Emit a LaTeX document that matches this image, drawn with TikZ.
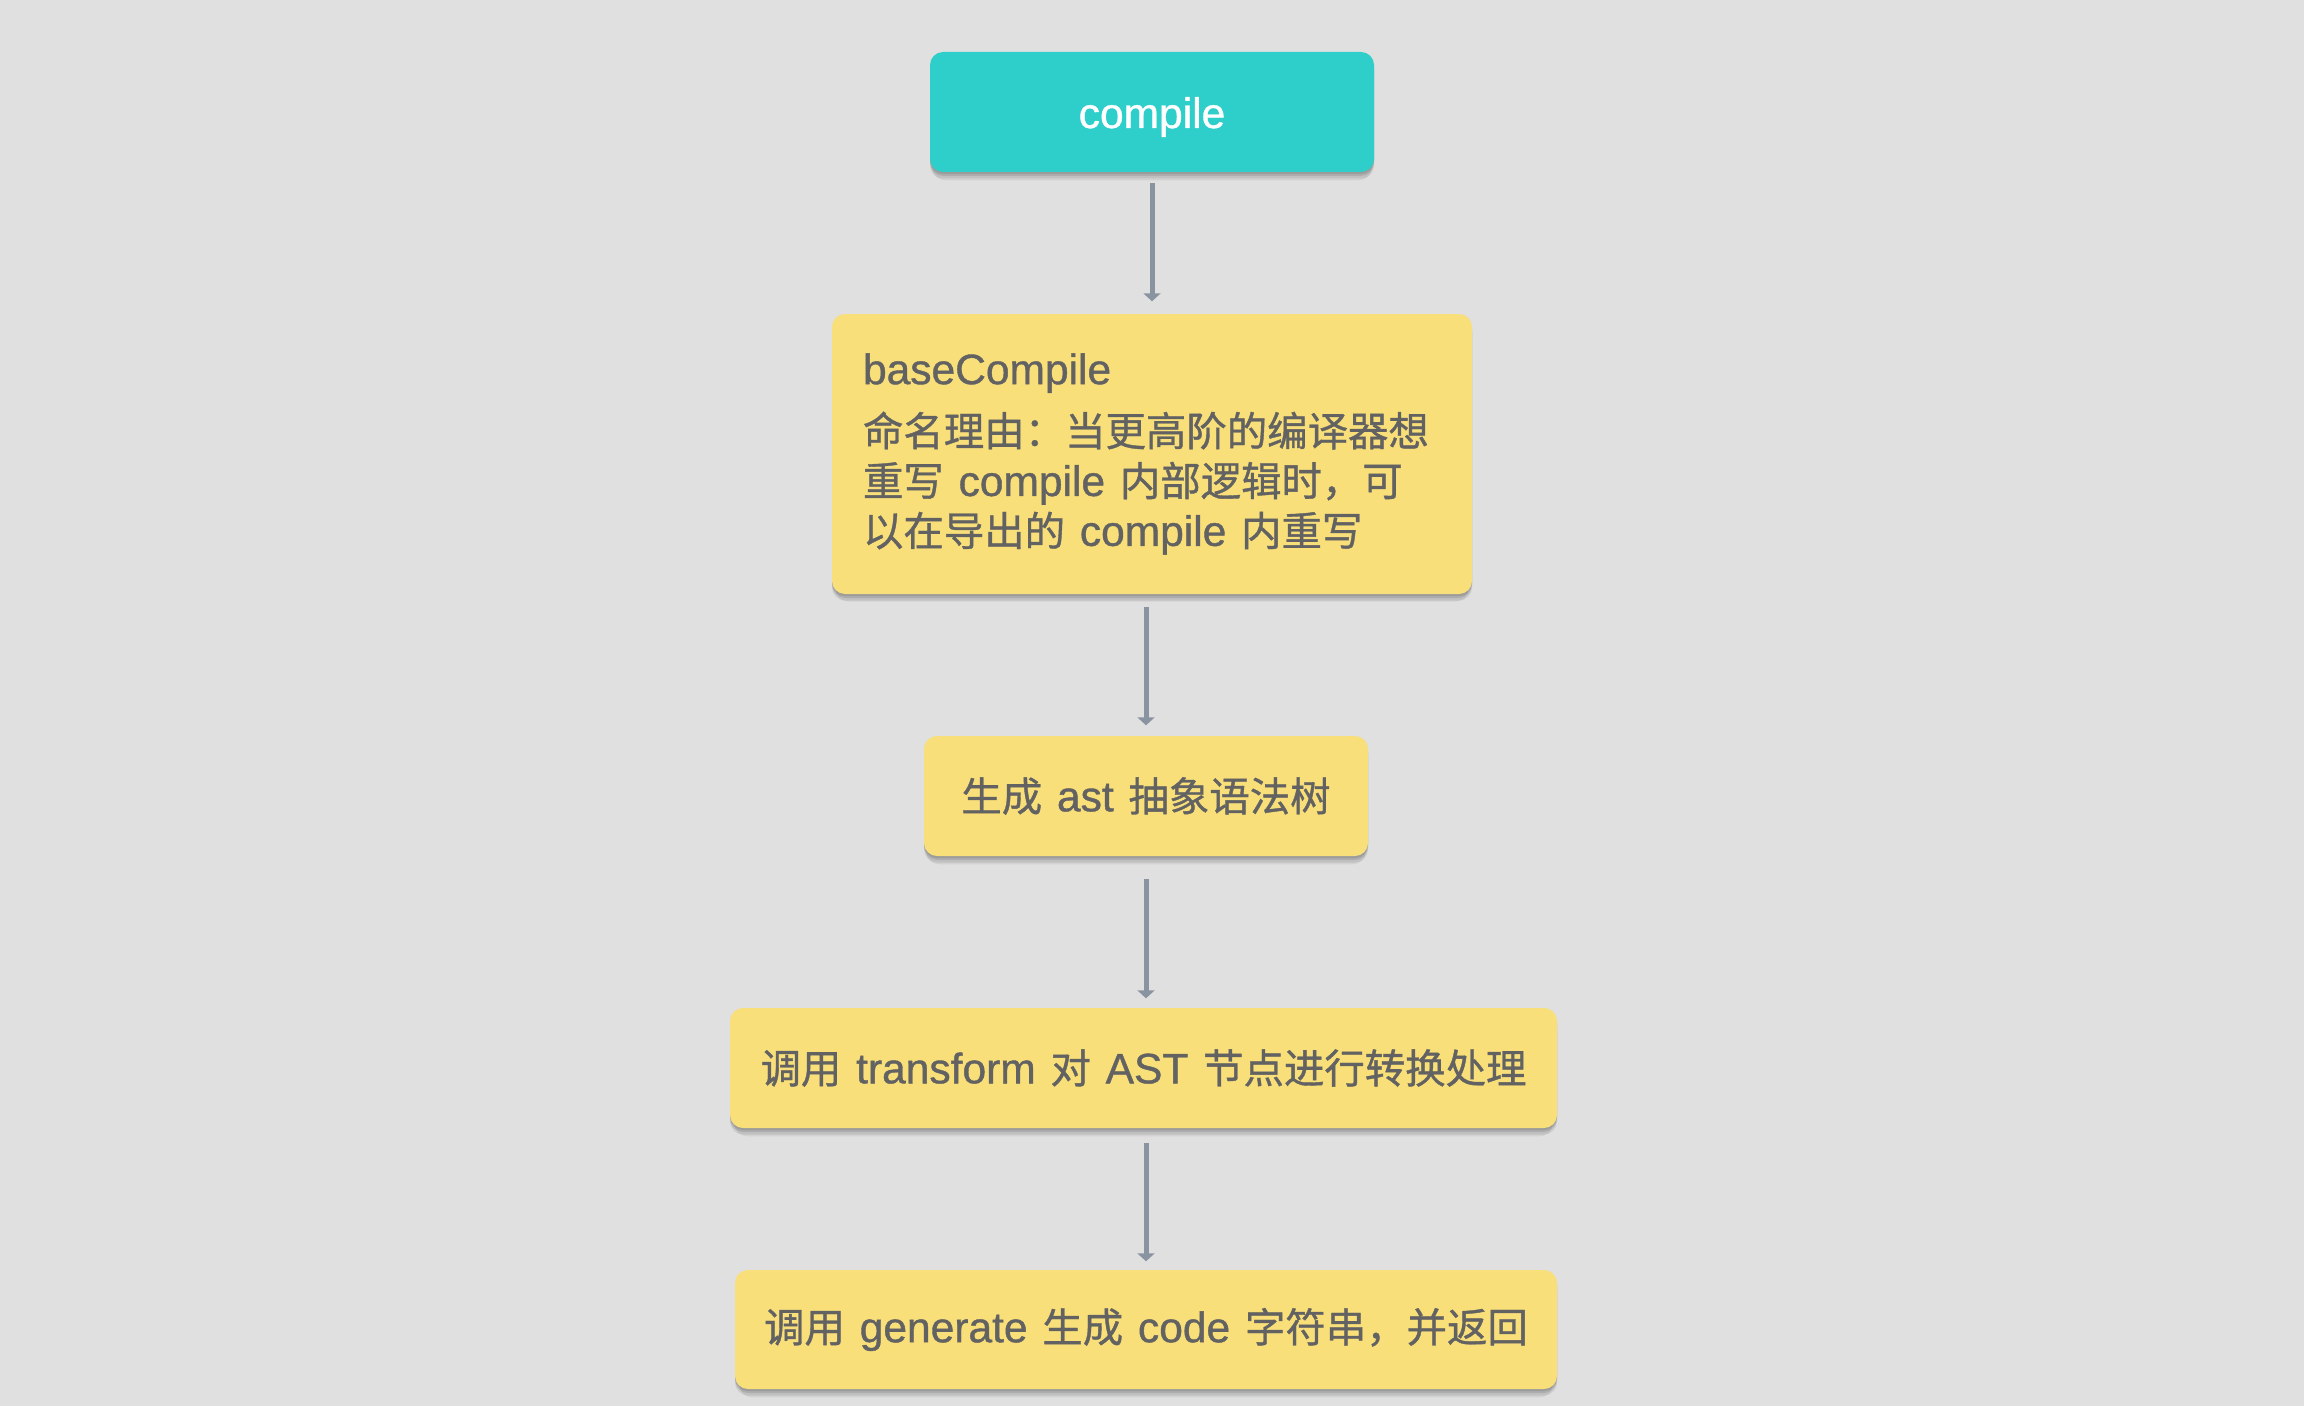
\documentclass[tikz,border=0pt]{standalone}
\usepackage{fontspec}
\setmainfont{Noto Sans CJK SC}[FakeBold=0.9]
\newfontfamily\latfont{Liberation Sans}[FakeBold=0.9]
\newcommand\lat[1]{{\latfont\fontsize{12.1}{14.2}\selectfont #1}}
\newcommand\gp{\hspace{4.2pt}}
\usetikzlibrary{shadows,arrows.meta}
\definecolor{bgc}{HTML}{E0E0E0}
\definecolor{tealc}{HTML}{2ECFCA}
\definecolor{yellowc}{HTML}{F8DF79}
\definecolor{txtc}{HTML}{626262}
\definecolor{arrowc}{HTML}{8994A0}
\begin{document}
\begin{tikzpicture}[x=1cm,y=1cm,
  boxbase/.style={rounded corners=0.13cm, draw=none, inner sep=0pt,
    drop shadow={shadow xshift=0pt, shadow yshift=-0.09cm, shadow scale=0.99, opacity=0.06, fill=black},
    drop shadow={shadow xshift=0pt, shadow yshift=-0.065cm, opacity=0.08, fill=black},
    drop shadow={shadow xshift=0pt, shadow yshift=-0.04cm, opacity=0.10, fill=black},
    drop shadow={shadow xshift=0pt, shadow yshift=-0.02cm, opacity=0.10, fill=black},
    font=\fontsize{11.5}{14.2}\selectfont},
  topbox/.style={boxbase, fill=tealc, text=white},
  stepbox/.style={boxbase, fill=yellowc, text=txtc},
  arr/.style={draw=arrowc, line width=0.05cm, -{Triangle[width=0.17cm,length=0.08cm]}}]
\fill[bgc] (0,0) rectangle (23.04,-14.06);
\useasboundingbox (0,0) rectangle (23.04,-14.06);

\node[topbox, minimum width=4.44cm, minimum height=1.20cm, text height=0.40cm, text depth=0.08cm] (compile) at (11.52,-1.12) {\lat{compile}};

\node[stepbox, minimum width=6.40cm, minimum height=2.80cm, text width=5.78cm, inner xsep=0.31cm, align=left] (base) at (11.52,-4.54)
  {\lat{baseCompile}\\[0.12cm]
   命名理由：当更高阶的编译器想\\
   重写\gp\lat{compile}\gp 内部逻辑时，可\\
   以在导出的\gp\lat{compile}\gp 内重写};

\node[stepbox, minimum width=4.44cm, minimum height=1.20cm] (ast) at (11.46,-7.96) {生成\gp\lat{ast}\gp 抽象语法树};

\node[stepbox, minimum width=8.27cm, minimum height=1.20cm] (transform) at (11.435,-10.68) {调用\gp\lat{transform}\gp 对\gp\lat{AST}\gp 节点进行转换处理};

\node[stepbox, minimum width=8.22cm, minimum height=1.19cm] (generate) at (11.46,-13.295) {调用\gp\lat{generate}\gp 生成\gp\lat{code}\gp 字符串，并返回};

\draw[arr, shorten <=0.10cm, shorten >=0.12cm] (compile.south -| base.north) -- (base.north);
\draw[arr, shorten <=0.12cm, shorten >=0.10cm] (base.south -| ast.north) -- (ast.north);
\draw[arr, shorten <=0.22cm, shorten >=0.09cm] (ast.south) -- (ast.south |- transform.north);
\draw[arr, shorten <=0.14cm, shorten >=0.08cm] (transform.south -| generate.north) -- (generate.north);
\end{tikzpicture}
\end{document}
